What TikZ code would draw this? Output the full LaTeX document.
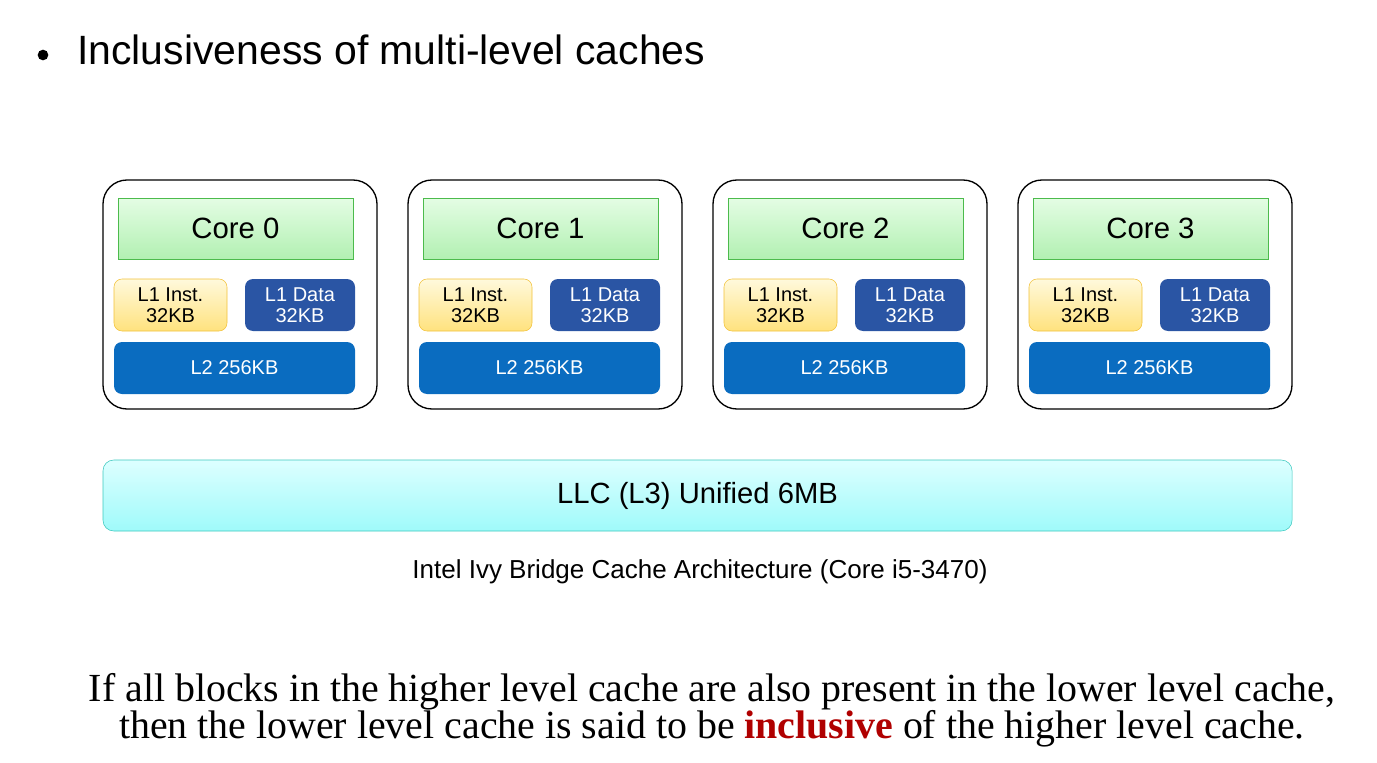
\documentclass[tikz,border=0pt]{standalone}
\usepackage{fontspec}
\setmainfont{Liberation Serif}
\setsansfont{Liberation Sans}
\usepackage{tikz}

\definecolor{coreline}{HTML}{4CBB4C}
\definecolor{coretop}{HTML}{E4FDE4}
\definecolor{corebot}{HTML}{B2F0B2}
\definecolor{instline}{HTML}{F2C23A}
\definecolor{insttop}{HTML}{FFF9DC}
\definecolor{instbot}{HTML}{FFE27E}
\definecolor{datafill}{HTML}{2A55A4}
\definecolor{ltwofill}{HTML}{0A6CC0}
\definecolor{llcline}{HTML}{3CC8BE}
\definecolor{llctop}{HTML}{DDFFFF}
\definecolor{llcbot}{HTML}{9FFAFA}
\definecolor{incred}{HTML}{B00000}

\tikzset{
  corebox/.style={draw, rounded corners=18pt, line width=1pt, minimum width=205.5pt, minimum height=171.75pt, inner sep=0pt},
  cpu/.style={draw=coreline, top color=coretop, bottom color=corebot, minimum width=176.25pt, minimum height=45.75pt, inner sep=0pt, font=\sffamily\fontsize{22}{26}\selectfont},
  linst/.style={draw=instline, top color=insttop, bottom color=instbot, rounded corners=6pt, minimum width=84.75pt, minimum height=39pt, inner sep=0pt, align=center, font=\sffamily\fontsize{15}{15.75}\selectfont},
  ldata/.style={fill=datafill, text=white, rounded corners=6pt, minimum width=82.5pt, minimum height=39pt, inner sep=0pt, align=center, font=\sffamily\fontsize{15}{15.75}\selectfont},
  ltwo/.style={fill=ltwofill, text=white, rounded corners=6pt, minimum width=180.75pt, minimum height=39pt, inner sep=0pt, font=\sffamily\fontsize{15}{18}\selectfont}
}

\begin{document}
\begin{tikzpicture}[x=0.75pt, y=-0.75pt]
        \useasboundingbox (0,0) rectangle (1377,763);

        \fill (43,55) circle (4pt);
        \node (title) [anchor=base west, inner sep=0pt, font=\sffamily\fontsize{30.7}{36}\selectfont] at (77,65) {Inclusiveness of multi-level caches};

        \foreach \i in {0,1,2,3} {
          \node (box\i) [corebox] at (240+305*\i, 294.5) {};
          \node (core\i) [cpu] at (235.5+305*\i, 228.5) {Core \i};
          \node (linst\i) [linst] at (170.5+305*\i, 305) {L1 Inst.\\32KB};
          \node (ldata\i) [ldata] at (300+305*\i, 305) {L1 Data\\32KB};
          \node (ltwo\i) [ltwo] at (234.5+305*\i, 368) {L2 256KB};
        }

        \node (llc) [draw=llcline, top color=llctop, bottom color=llcbot, rounded corners=8pt, minimum width=891.75pt, minimum height=53.25pt, inner sep=0pt, font=\sffamily\fontsize{21.9}{24}\selectfont] at (697.5,495.5) {LLC (L3) Unified 6MB};

        \node (caption) [anchor=base, inner sep=0pt, font=\sffamily\fontsize{19.5}{22}\selectfont] at (700,578) {Intel Ivy Bridge Cache Architecture (Core i5-3470)};

        \node (note) [anchor=base, inner sep=0pt, align=center, font=\fontsize{29.9}{27.75}\selectfont] at (712,738)
          {If all blocks in the higher level cache are also present in the lower level cache,\\
           then the lower level cache is said to be \textcolor{incred}{\textbf{inclusive}} of the higher level cache.};
    \end{tikzpicture}
\end{document}
